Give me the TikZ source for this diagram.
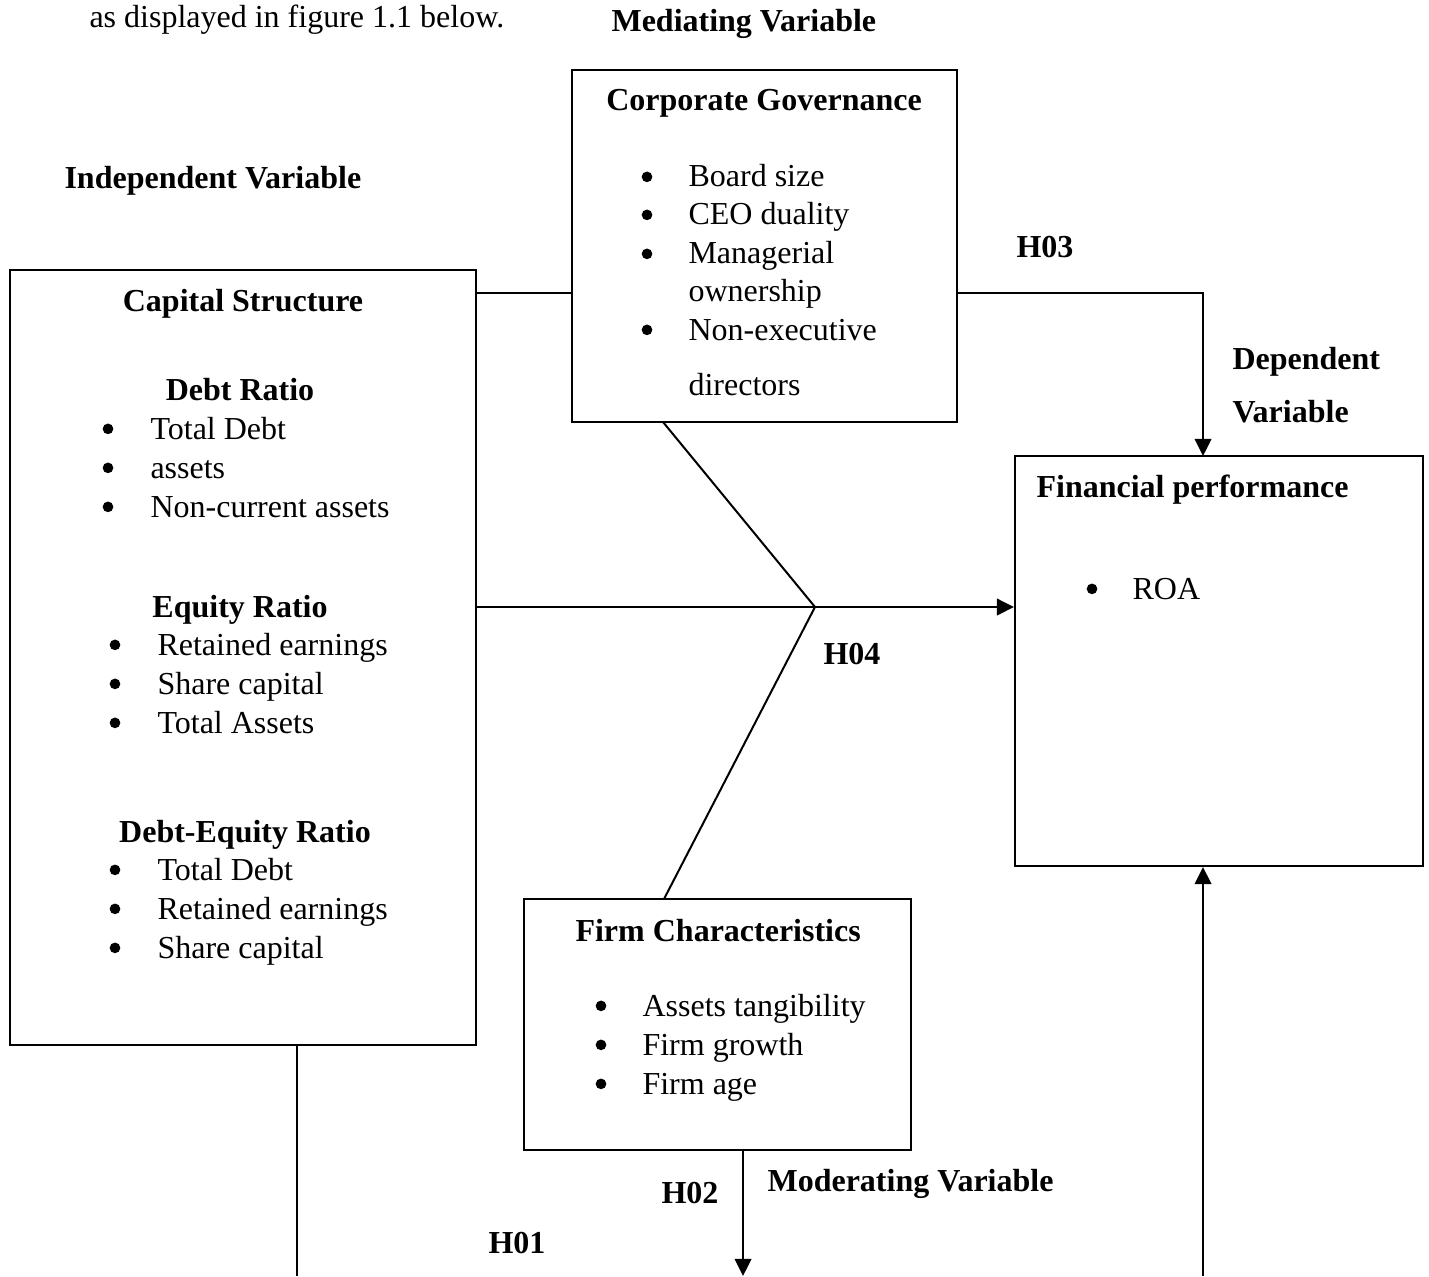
\documentclass[tikz,border=0pt]{standalone}
\usepackage{fontspec}
\setmainfont{Liberation Serif}
\usetikzlibrary{fit,arrows.meta}
\begin{document}
\begin{tikzpicture}[x=0.375pt,y=-0.375pt,
  box/.style={draw,line width=0.75pt,inner sep=0pt},
  lbl/.style={anchor=base west,inner sep=0pt,font=\fontsize{12pt}{14pt}\selectfont},
  hd/.style={anchor=base west,inner sep=0pt,font=\fontsize{12pt}{14pt}\selectfont\bfseries},
  hdc/.style={anchor=base,inner sep=0pt,font=\fontsize{12pt}{14pt}\selectfont\bfseries},
  bul/.style={circle,fill,inner sep=0pt,minimum size=4pt,yshift=3.8pt},
  conn/.style={line width=0.75pt},
  arr/.style={line width=0.75pt,-{Triangle[length=6.4pt,width=6.2pt]}}]
\fill[white] (0,0) rectangle (1429,1276);
\useasboundingbox (0,0) rectangle (1429,1276);

% boxes
\node[box,fit={(10,270) (476,1045)}] (cs) {};
\node[box,fit={(572,70) (957,422)}] (cg) {};
\node[box,fit={(1015,456) (1423,866)}] (fp) {};
\node[box,fit={(524,899) (911,1150)}] (fc) {};

% free texts
\node[lbl] (intro) at (89,28) {as displayed in figure 1.1 below.};
\node[hd] (med) at (611,32) {Mediating Variable};
\node[hd] (ind) at (64,189) {Independent Variable};
\node[hd] (h03) at (1016,258) {H03};
\node[hd] (dep1) at (1232,369) {Dependent};
\node[hd] (dep2) at (1232,422) {Variable};
\node[hd] (h04) at (823,664) {H04};
\node[hd] (h02) at (661,1203) {H02};
\node[hd] (mod) at (767,1191) {Moderating Variable};
\node[hd] (h01) at (488,1253) {H01};

% Capital structure
\node[hdc] (cst) at (243,312) {Capital Structure};
\node[hdc] (dr) at (240,400) {Debt Ratio};
\node[bul] (b1) at (108,439) {};
\node[lbl] (t1) at (150,439) {Total Debt};
\node[bul] (b2) at (108,478) {};
\node[lbl] (t2) at (150,478) {assets};
\node[bul] (b3) at (108,517) {};
\node[lbl] (t3) at (150,517) {Non-current assets};
\node[hdc] (er) at (240,617) {Equity Ratio};
\node[bul] (b4) at (115,655) {};
\node[lbl] (t4) at (157,655) {Retained earnings};
\node[bul] (b5) at (115,694) {};
\node[lbl] (t5) at (157,694) {Share capital};
\node[bul] (b6) at (115,733) {};
\node[lbl] (t6) at (157,733) {Total Assets};
\node[hdc] (der) at (245,842) {Debt-Equity Ratio};
\node[bul] (b7) at (115,880) {};
\node[lbl] (t7) at (157,880) {Total Debt};
\node[bul] (b8) at (115,919) {};
\node[lbl] (t8) at (157,919) {Retained earnings};
\node[bul] (b9) at (115,958) {};
\node[lbl] (t9) at (157,958) {Share capital};

% Corporate governance
\node[hdc] (cgt) at (764,111) {Corporate Governance};
\node[bul] (c1) at (647,187) {};
\node[lbl] (ct1) at (688,187) {Board size};
\node[bul] (c2) at (647,225) {};
\node[lbl] (ct2) at (688,225) {CEO duality};
\node[bul] (c3) at (647,264) {};
\node[lbl] (ct3) at (688,264) {Managerial};
\node[lbl] (ct3b) at (688,302) {ownership};
\node[bul] (c4) at (647,340) {};
\node[lbl] (ct4) at (688,340) {Non-executive};
\node[lbl] (ct4b) at (688,395) {directors};

% Financial performance
\node[hd] (fpt) at (1036,497) {Financial performance};
\node[bul] (f1) at (1092,599) {};
\node[lbl] (ft1) at (1132,599) {ROA};

% Firm characteristics
\node[hd] (fct) at (575,941) {Firm Characteristics};
\node[bul] (k1) at (601,1016) {};
\node[lbl] (kt1) at (642,1016) {Assets tangibility};
\node[bul] (k2) at (601,1055) {};
\node[lbl] (kt2) at (642,1055) {Firm growth};
\node[bul] (k3) at (601,1094) {};
\node[lbl] (kt3) at (642,1094) {Firm age};

% coordinates
\coordinate (ty) at (0,293);
\coordinate (j) at (815,607);
\coordinate (fptop) at (1203,456);
\coordinate (cgfoot) at (663,422);
\coordinate (fchead) at (664,899);
\coordinate (csx) at (297,0);
\coordinate (e1) at (297,1276);
\coordinate (e2) at (743,1276);
\coordinate (e3) at (1203,1276);

% connectors
\draw[conn] (cs.east |- ty) -- (cg.west |- ty);
\draw[arr] (cg.east |- ty) -| (fptop);
\draw[arr] (cs.east |- j) -- (fp.west |- j);
\draw[conn] (cgfoot) -- (j) -- (fchead);
\draw[conn] (cs.south -| csx) -- (e1);
\draw[arr] (fc.south -| e2) -- (e2);
\draw[arr] (e3) -- (fp.south -| e3);
\end{tikzpicture}
\end{document}
